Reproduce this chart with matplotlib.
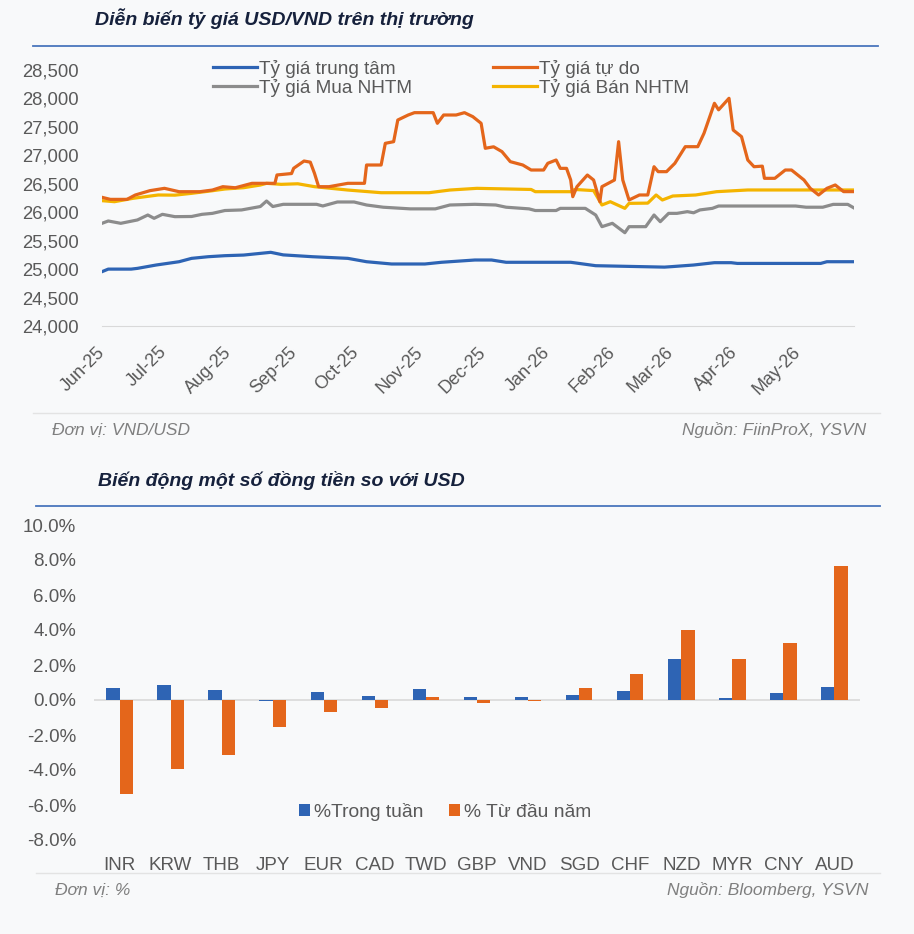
import matplotlib
matplotlib.use("Agg")
import matplotlib.pyplot as plt
import matplotlib.dates as mdates
from matplotlib.lines import Line2D
import numpy as np
import pandas as pd

plt.rcParams['font.family'] = ['Liberation Sans', 'DejaVu Sans']

# ---------------- data: USD/VND rates ----------------
central_dates = ["2025-06-01","2025-06-04","2025-06-15","2025-06-18","2025-06-27","2025-07-08","2025-07-14",
    "2025-07-22","2025-07-30","2025-08-08","2025-08-21","2025-08-27","2025-09-10","2025-09-27","2025-10-06",
    "2025-10-18","2025-11-03","2025-11-11","2025-11-27","2025-12-05","2025-12-12","2026-01-12","2026-01-24",
    "2026-02-26","2026-03-02","2026-03-12","2026-03-22","2026-03-30","2026-04-02","2026-05-12","2026-05-15",
    "2026-05-28"]
central_vals = [24955,25000,25000,25013,25072,25130,25189,25218,25236,25247,25295,25250,25218,25189,25130,
    25090,25090,25120,25160,25160,25120,25120,25060,25035,25045,25072,25113,25113,25100,25100,25130,25130]

free_dates = ["2025-06-01","2025-06-05","2025-06-13","2025-06-17","2025-06-24","2025-07-01","2025-07-08",
    "2025-07-18","2025-07-24","2025-07-29","2025-08-04","2025-08-12","2025-08-23","2025-08-24","2025-08-31",
    "2025-09-01","2025-09-06","2025-09-09","2025-09-11","2025-09-13","2025-09-18","2025-09-27","2025-10-05",
    "2025-10-06","2025-10-13","2025-10-15","2025-10-19","2025-10-21","2025-10-26","2025-10-29","2025-11-07",
    "2025-11-09","2025-11-12","2025-11-18","2025-11-22","2025-11-26","2025-11-30","2025-12-02","2025-12-06",
    "2025-12-10","2025-12-14","2025-12-20","2025-12-24","2025-12-30","2026-01-01","2026-01-05","2026-01-07",
    "2026-01-10","2026-01-12","2026-01-13","2026-01-15","2026-01-20","2026-01-23","2026-01-26","2026-01-27",
    "2026-02-02","2026-02-04","2026-02-06","2026-02-09","2026-02-14","2026-02-18","2026-02-21","2026-02-23",
    "2026-02-27","2026-03-03","2026-03-08","2026-03-14","2026-03-17","2026-03-22","2026-03-24","2026-03-29",
    "2026-03-31","2026-04-04","2026-04-07","2026-04-10","2026-04-14","2026-04-15","2026-04-20","2026-04-25",
    "2026-04-28","2026-05-04","2026-05-07","2026-05-11","2026-05-15","2026-05-19","2026-05-23","2026-05-28"]
free_vals = [26262,26226,26226,26303,26379,26420,26361,26361,26390,26449,26430,26508,26508,26655,26680,
    26772,26900,26880,26684,26449,26449,26508,26508,26830,26830,27211,27240,27621,27709,27750,27750,
    27563,27709,27709,27750,27680,27563,27124,27150,27065,26889,26830,26742,26742,26860,26918,26771,
    26771,26566,26273,26449,26654,26566,26185,26449,26566,27240,26566,26215,26303,26303,26800,26713,
    26713,26860,27152,27152,27388,27915,27800,28003,27445,27328,26918,26800,26810,26596,26596,26742,
    26742,26566,26420,26303,26420,26479,26362,26362]

buy_dates = ["2025-06-01","2025-06-04","2025-06-10","2025-06-18","2025-06-23","2025-06-26","2025-06-30",
    "2025-07-06","2025-07-14","2025-07-19","2025-07-24","2025-07-30","2025-08-07","2025-08-16","2025-08-19",
    "2025-08-22","2025-08-27","2025-09-12","2025-09-15","2025-09-22","2025-09-30","2025-10-06","2025-10-14",
    "2025-10-27","2025-11-08","2025-11-15","2025-11-27","2025-12-07","2025-12-12","2025-12-23","2025-12-26",
    "2026-01-05","2026-01-07","2026-01-19","2026-01-24","2026-01-27","2026-02-01","2026-02-07","2026-02-09",
    "2026-02-17","2026-02-21","2026-02-24","2026-02-28","2026-03-04","2026-03-09","2026-03-12","2026-03-15",
    "2026-03-21","2026-03-24","2026-04-30","2026-05-05","2026-05-13","2026-05-18","2026-05-25","2026-05-28"]
buy_vals = [25805,25846,25805,25864,25951,25893,25963,25922,25925,25963,25980,26030,26040,26100,26197,
    26100,26139,26139,26110,26180,26180,26127,26088,26059,26059,26127,26139,26127,26088,26059,26030,
    26030,26068,26068,25951,25746,25805,25640,25746,25746,25951,25834,25980,25980,26010,25990,26040,
    26068,26109,26109,26088,26088,26138,26138,26075]

sell_dates = ["2025-06-01","2025-06-07","2025-06-16","2025-06-28","2025-07-06","2025-07-14","2025-07-23",
    "2025-07-30","2025-08-08","2025-08-16","2025-08-19","2025-08-26","2025-09-03","2025-09-11","2025-09-27",
    "2025-10-13","2025-11-05","2025-11-15","2025-11-28","2025-12-24","2025-12-26","2026-01-12","2026-01-14",
    "2026-01-23","2026-01-27","2026-01-31","2026-02-07","2026-02-09","2026-02-18","2026-02-22","2026-02-25",
    "2026-03-02","2026-03-13","2026-03-23","2026-04-07","2026-05-28"]
sell_vals = [26203,26185,26245,26303,26300,26332,26373,26408,26431,26478,26508,26490,26500,26449,26390,
    26343,26343,26390,26420,26400,26361,26361,26400,26380,26127,26185,26068,26156,26160,26303,26215,
    26285,26303,26361,26391,26391]

month_ticks = pd.date_range("2025-06-01", "2026-05-01", freq="MS")

# ---------------- data: currencies vs USD ----------------
currencies = ["INR","KRW","THB","JPY","EUR","CAD","TWD","GBP","VND","SGD","CHF","NZD","MYR","CNY","AUD"]
week_chg = [0.70, 0.88, 0.55, -0.04, 0.46, 0.21, 0.63, 0.17, 0.17, 0.27, 0.51, 2.34, 0.10, 0.42, 0.74]
ytd_chg = [-5.37, -3.94, -3.12, -1.54, -0.70, -0.46, 0.19, -0.17, -0.05, 0.67, 1.50, 4.00, 2.34, 3.26, 7.66]

# ---------------- styling ----------------
W, H = 914, 934
TXT = '#595959'
NAVY = '#16213c'
C_BLUE = '#2E64B4'
C_ORANGE = '#E4661B'
C_GRAY = '#8C8C8C'
C_YELLOW = '#F4B400'

fig = plt.figure(figsize=(W/100, H/100), dpi=100, facecolor='#f8f9fa')

def rect(l, t, r, b):
    return [l/W, 1-b/H, (r-l)/W, (b-t)/H]

def fx(x):
    return x/W

def fy(y):
    return 1-y/H

# header/footer decorations
fig.text(fx(95), fy(19), "Diễn biến tỷ giá USD/VND trên thị trường", fontsize=14, fontweight='bold',
         fontstyle='italic', color=NAVY, va='center', ha='left')
fig.add_artist(Line2D([fx(33), fx(878)], [fy(46), fy(46)], color='#4a76bd', lw=1.3))
fig.add_artist(Line2D([fx(33), fx(880)], [fy(413), fy(413)], color='#e3e3e3', lw=1.0))
fig.text(fx(52), fy(430), "Đơn vị: VND/USD", fontsize=12.5, fontstyle='italic', color='#7f7f7f', va='center')
fig.text(fx(866), fy(430), "Nguồn: FiinProX, YSVN", fontsize=12.5, fontstyle='italic', color='#7f7f7f',
         va='center', ha='right')

fig.text(fx(98), fy(480), "Biến động một số đồng tiền so với USD", fontsize=14, fontweight='bold',
         fontstyle='italic', color=NAVY, va='center', ha='left')
fig.add_artist(Line2D([fx(36), fx(880)], [fy(506), fy(506)], color='#4a76bd', lw=1.3))
fig.add_artist(Line2D([fx(36), fx(880)], [fy(873), fy(873)], color='#e3e3e3', lw=1.0))
fig.text(fx(55), fy(890), "Đơn vị: %", fontsize=12.5, fontstyle='italic', color='#7f7f7f', va='center')
fig.text(fx(868), fy(890), "Nguồn: Bloomberg, YSVN", fontsize=12.5, fontstyle='italic', color='#7f7f7f',
         va='center', ha='right')

# ---------------- top chart ----------------
ax1 = fig.add_axes(rect(102, 70, 854, 326))
ax1.set_facecolor('none')
series = [
    (central_dates, central_vals, C_BLUE, "Tỷ giá trung tâm"),
    (buy_dates, buy_vals, C_GRAY, "Tỷ giá Mua NHTM"),
    (sell_dates, sell_vals, C_YELLOW, "Tỷ giá Bán NHTM"),
    (free_dates, free_vals, C_ORANGE, "Tỷ giá tự do"),
]
handles = {}
for d, v, c, lab in series:
    ln, = ax1.plot(pd.to_datetime(d), v, color=c, lw=2.3, label=lab, solid_joinstyle='round')
    handles[lab] = ln
ax1.set_ylim(24000, 28500)
ax1.set_yticks(np.arange(24000, 28501, 500))
ax1.yaxis.set_major_formatter(matplotlib.ticker.FuncFormatter(lambda v, p: f"{v:,.0f}"))
ax1.set_xlim(pd.Timestamp(free_dates[0]), pd.Timestamp(free_dates[-1]))
ax1.set_xticks(month_ticks)
ax1.xaxis.set_major_formatter(mdates.DateFormatter("%b-%y"))
for s in ['top', 'right', 'left']:
    ax1.spines[s].set_visible(False)
ax1.spines['bottom'].set_color('#d9d9d9')
ax1.tick_params(axis='y', length=0, pad=17, labelsize=13.3, labelcolor=TXT)
ax1.tick_params(axis='x', length=0, pad=17, labelsize=13, labelcolor=TXT)
for lbl in ax1.get_xticklabels():
    lbl.set_rotation(45)
    lbl.set_ha('right')
    lbl.set_va('center')
    lbl.set_rotation_mode('anchor')

order = ["Tỷ giá trung tâm", "Tỷ giá Mua NHTM", "Tỷ giá tự do", "Tỷ giá Bán NHTM"]
fig.legend([handles[k] for k in order], order, ncol=2, loc='upper left',
           bbox_to_anchor=(fx(213), fy(60)), bbox_transform=fig.transFigure, frameon=False,
           fontsize=13.7, handlelength=2.3, handletextpad=0.1, columnspacing=4.3, labelspacing=0.05,
           borderpad=0, borderaxespad=0, labelcolor=TXT)

# ---------------- bottom chart ----------------
ax2 = fig.add_axes(rect(94, 525, 860, 840))
ax2.set_facecolor('none')
x = np.arange(len(currencies))
bw = 0.26
b1 = ax2.bar(x - bw/2, week_chg, width=bw, color=C_BLUE, label="%Trong tuần")
b2 = ax2.bar(x + bw/2, ytd_chg, width=bw, color=C_ORANGE, label="% Từ đầu năm")
ax2.axhline(0, color='#d9d9d9', lw=1.2, zorder=0)
ax2.set_xlim(-0.5, len(currencies) - 0.5)
ax2.set_ylim(-8, 10)
ax2.set_yticks(np.arange(-8, 10.01, 2))
ax2.yaxis.set_major_formatter(matplotlib.ticker.FuncFormatter(lambda v, p: f"{v:.1f}%"))
ax2.set_xticks(x)
ax2.set_xticklabels(currencies)
for s in ax2.spines.values():
    s.set_visible(False)
ax2.tick_params(axis='y', length=0, pad=13, labelsize=13.5, labelcolor=TXT)
ax2.tick_params(axis='x', length=0, pad=12, labelsize=13.5, labelcolor=TXT)
fig.legend([b1, b2], ["%Trong tuần", "% Từ đầu năm"], ncol=2, loc='center left',
           bbox_to_anchor=(fx(299), fy(812)), bbox_transform=fig.transFigure, frameon=False,
           fontsize=13.9, handlelength=0.55, handleheight=0.55, handletextpad=0.25, columnspacing=1.3,
           borderpad=0, borderaxespad=0, labelcolor=TXT)

fig.savefig("out.png", dpi=100, facecolor=fig.get_facecolor())
